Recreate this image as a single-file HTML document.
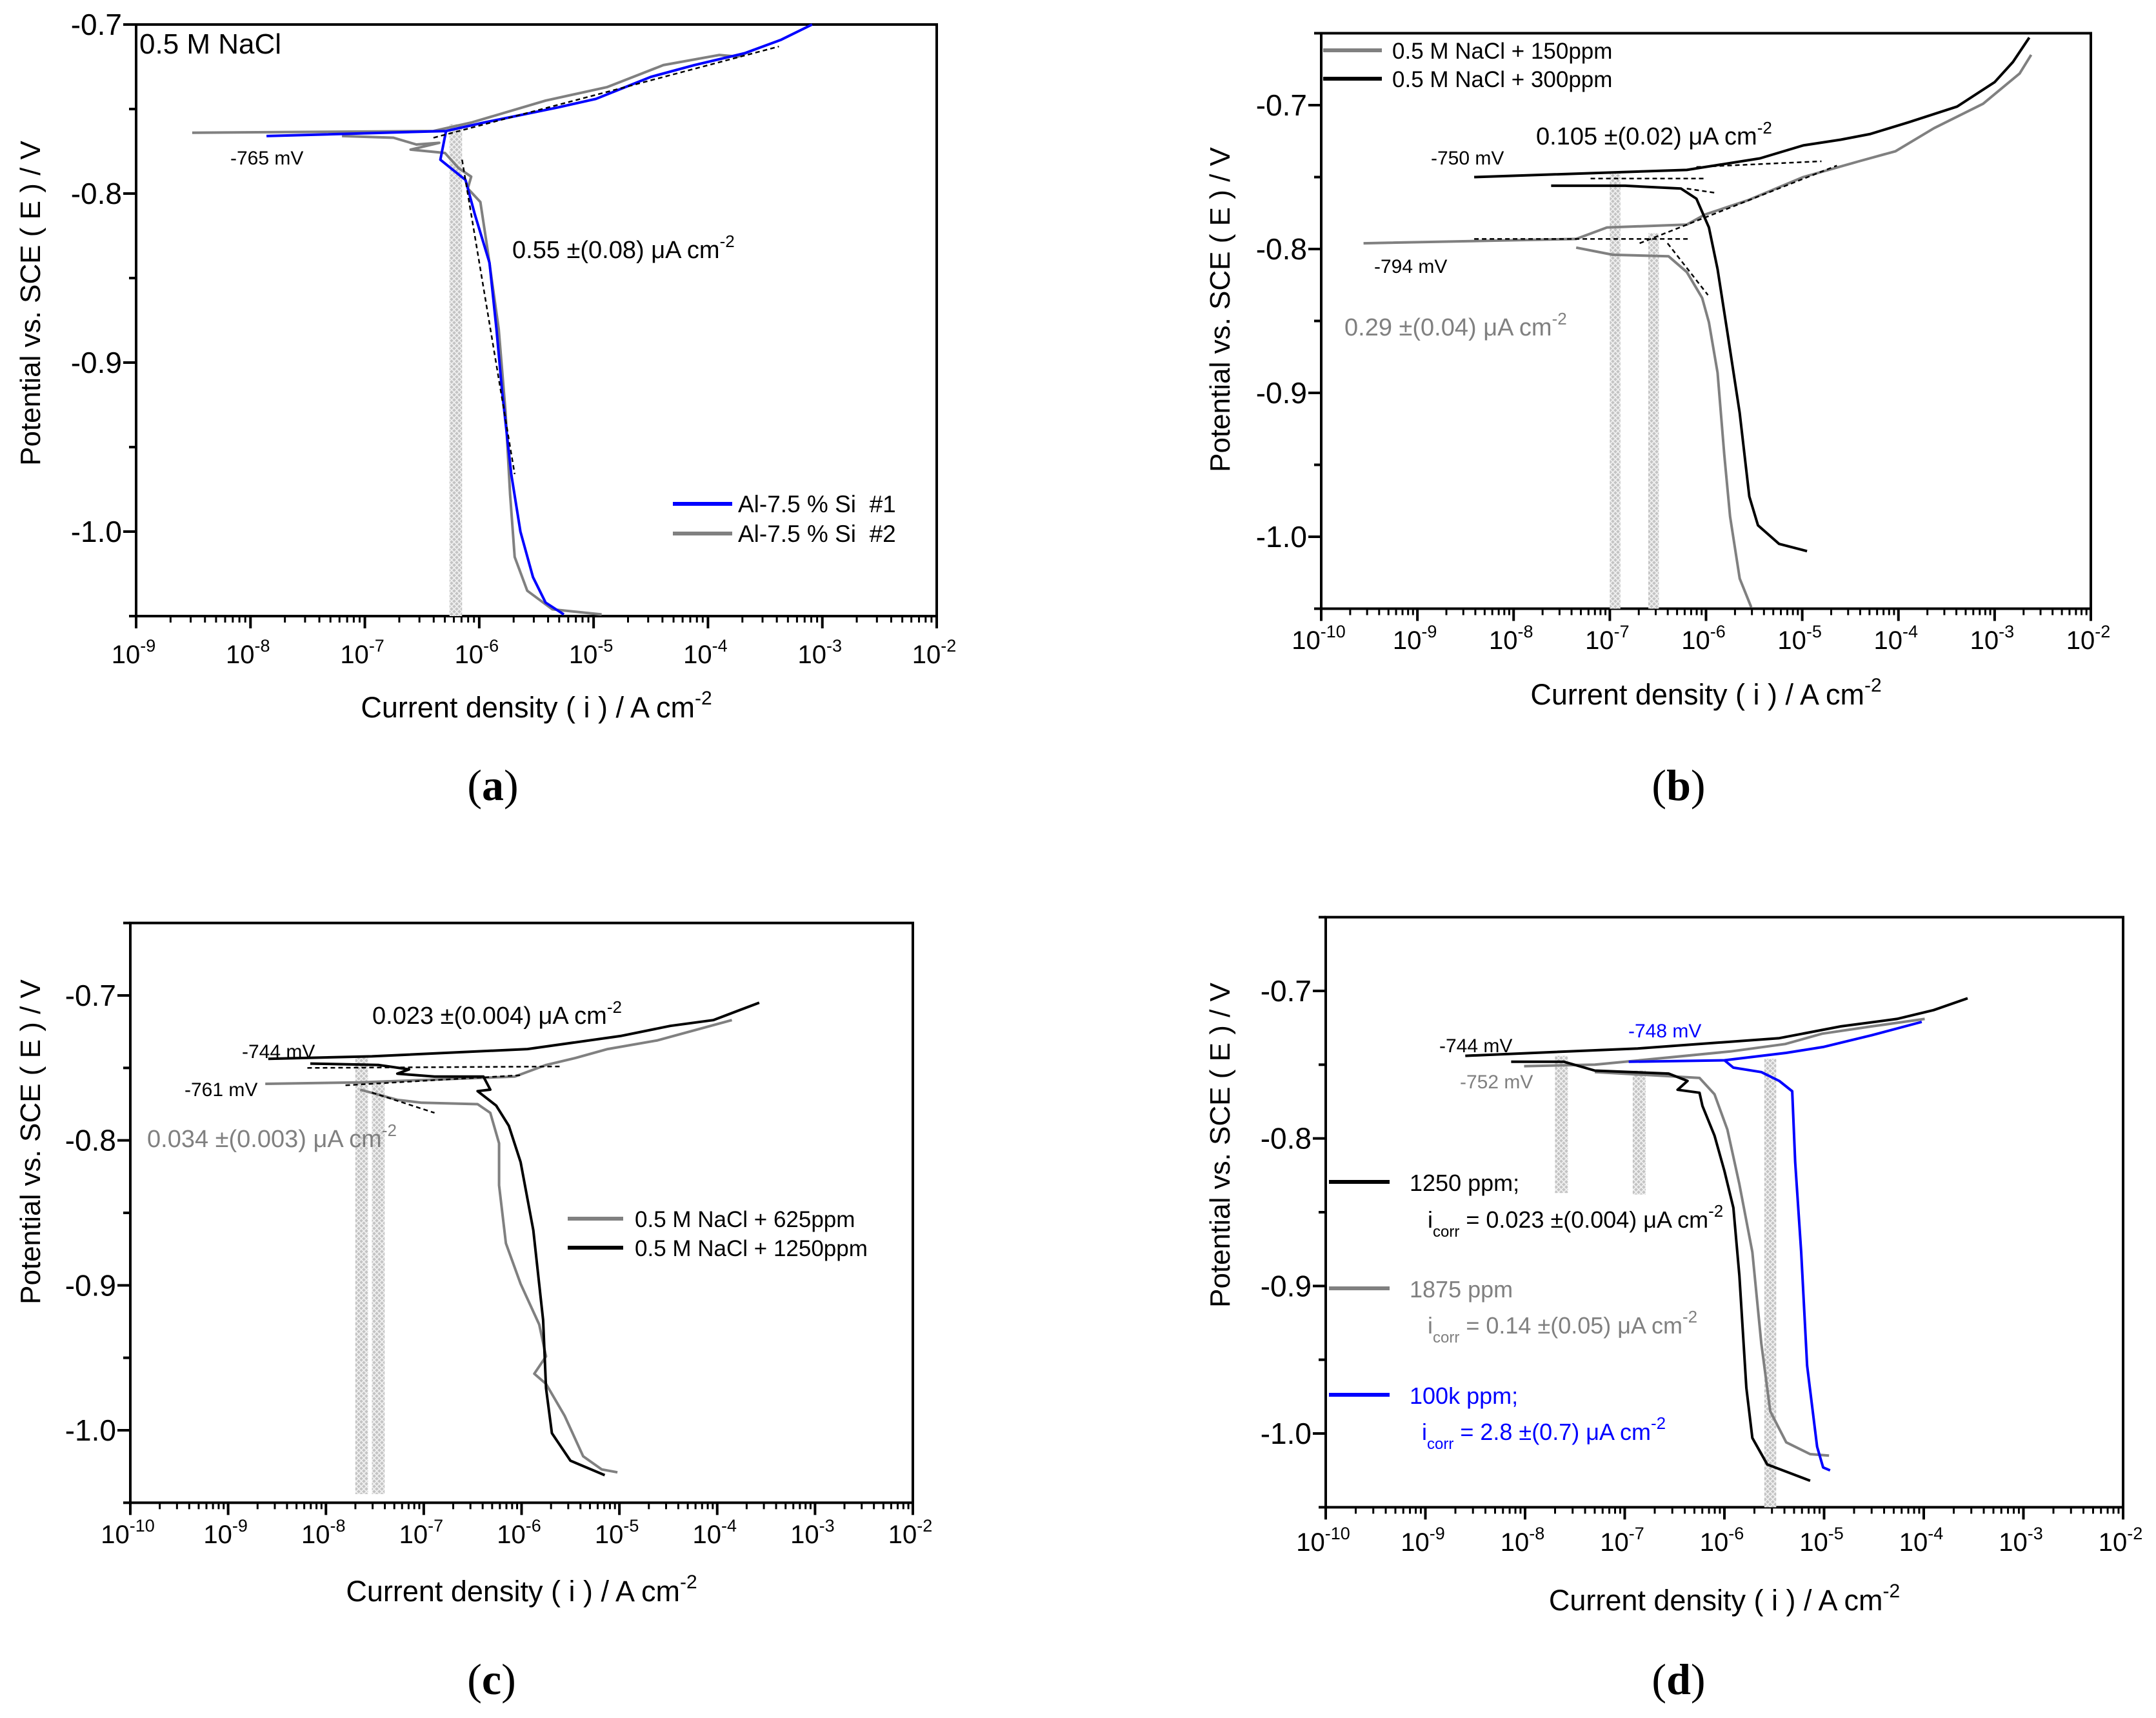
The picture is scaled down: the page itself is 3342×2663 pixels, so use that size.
<!DOCTYPE html>
<html><head><meta charset="utf-8">
<style>
html,body{margin:0;padding:0;background:#fff;}
svg{display:block;}
text{font-family:"Liberation Sans",sans-serif;}
</style></head>
<body>
<svg id="fig" xmlns="http://www.w3.org/2000/svg" width="3342" height="2663" viewBox="0 0 3342 2663">
<defs>
<pattern id="hatch" width="8" height="8" patternUnits="userSpaceOnUse">
<rect width="8" height="8" fill="#c4c4c4"/>
<path d="M0,0 L8,8 M8,0 L0,8" stroke="#f2f2f2" stroke-width="1.6"/>
</pattern>
</defs>
</svg>
<script>
// ---------- DATA (log10 current density exponent, potential V) ----------
// Panel a
const aBlueAnLog=[-7.86,-6.29,-5.96,-5.31,-4.98,-4.50,-4.12,-3.68,-3.36,-3.09];
const aBlueAnE=[-0.766,-0.763,-0.758,-0.749,-0.744,-0.731,-0.724,-0.717,-0.709,-0.700];
const aBlueCaLog=[-6.29,-6.34,-6.12,-6.04,-5.91,-5.85,-5.80,-5.72,-5.64,-5.53,-5.42,-5.26];
const aBlueCaE=[-0.763,-0.780,-0.792,-0.812,-0.841,-0.880,-0.917,-0.966,-1.000,-1.027,-1.042,-1.049];
const aGrayAnLog=[-8.51,-6.40,-6.07,-5.42,-4.88,-4.39,-3.90,-3.74,-3.60];
const aGrayAnE=[-0.764,-0.763,-0.758,-0.745,-0.737,-0.724,-0.718,-0.719,-0.715];
const aGrayCaLog=[-7.2,-6.75,-6.55,-6.35,-6.6,-6.3,-6.18,-6.07,-6.10,-5.99,-5.93,-5.83,-5.77,-5.73,-5.69,-5.58,-5.36,-4.93];
const aGrayCaE=[-0.766,-0.767,-0.771,-0.770,-0.774,-0.776,-0.785,-0.790,-0.797,-0.805,-0.832,-0.880,-0.929,-0.978,-1.015,-1.035,-1.046,-1.049];
const aBarLog=[-6.26,-6.15]; const aBarTopE=-0.759;
// Panel b
const bBlkAnLog=[-8.41,-6.20,-6.01,-5.44,-4.99,-4.60,-4.29,-3.90,-3.39,-3.00,-2.81,-2.64];
const bBlkAnE=[-0.750,-0.745,-0.743,-0.737,-0.728,-0.724,-0.720,-0.712,-0.701,-0.684,-0.670,-0.653];
const bBlkCaLog=[-7.61,-6.84,-6.26,-6.10,-5.97,-5.88,-5.78,-5.65,-5.55,-5.46,-5.24,-4.95];
const bBlkCaE=[-0.756,-0.756,-0.758,-0.765,-0.785,-0.814,-0.857,-0.914,-0.972,-0.992,-1.005,-1.010];
const bGryAnLog=[-9.56,-7.35,-7.03,-6.20,-6.01,-5.56,-4.99,-4.41,-4.03,-3.63,-3.12,-2.74,-2.62];
const bGryAnE=[-0.796,-0.793,-0.785,-0.783,-0.776,-0.766,-0.750,-0.739,-0.732,-0.716,-0.699,-0.678,-0.665];
const bGryCaLog=[-7.35,-6.97,-6.39,-6.20,-6.04,-5.97,-5.88,-5.81,-5.75,-5.65,-5.53];
const bGryCaE=[-0.799,-0.804,-0.805,-0.816,-0.834,-0.851,-0.886,-0.943,-0.986,-1.029,-1.049];
const bBar1Log=[-7.00,-6.89]; const bBar1TopE=-0.747;
const bBar2Log=[-6.60,-6.49]; const bBar2TopE=-0.789;
// Panel c
const cBlkAnLog=[-8.59,-7.53,-5.94,-4.99,-4.48,-4.04,-3.57];
const cBlkAnE=[-0.7437,-0.742,-0.737,-0.728,-0.721,-0.717,-0.705];
const cBlkCaLog=[-8.16,-7.46,-7.15,-7.27,-6.89,-6.39,-6.32,-6.45,-6.26,-6.13,-6.01,-5.88,-5.78,-5.75,-5.69,-5.50,-5.15];
const cBlkCaE=[-0.747,-0.748,-0.751,-0.754,-0.756,-0.756,-0.765,-0.766,-0.776,-0.790,-0.815,-0.862,-0.924,-0.971,-1.002,-1.021,-1.031];
const cGryAnLog=[-8.62,-7.65,-6.07,-5.75,-5.44,-5.12,-4.61,-3.85];
const cGryAnE=[-0.761,-0.760,-0.756,-0.748,-0.743,-0.737,-0.731,-0.717];
const cGryCaLog=[-7.65,-7.27,-7.02,-6.45,-6.32,-6.23,-6.23,-6.16,-6.01,-5.82,-5.75,-5.87,-5.75,-5.56,-5.37,-5.18,-5.02];
const cGryCaE=[-0.765,-0.772,-0.774,-0.775,-0.781,-0.802,-0.831,-0.871,-0.899,-0.927,-0.949,-0.961,-0.968,-0.990,-1.018,-1.027,-1.029];
const cBar1Log=[-7.70,-7.57]; const cBar1TopE=-0.743;
const cBar2Log=[-7.53,-7.40]; const cBar2TopE=-0.759;
// Panel d
const dBlkAnLog=[-8.60,-6.87,-5.45,-4.83,-4.27,-3.90,-3.56];
const dBlkAnE=[-0.744,-0.739,-0.732,-0.724,-0.719,-0.713,-0.705];
const dBlkCaLog=[-8.14,-7.61,-7.30,-6.56,-6.37,-6.47,-6.25,-6.22,-6.10,-6.00,-5.91,-5.85,-5.78,-5.72,-5.57,-5.14];
const dBlkCaE=[-0.748,-0.748,-0.754,-0.756,-0.761,-0.767,-0.769,-0.778,-0.798,-0.822,-0.847,-0.893,-0.969,-1.003,-1.021,-1.032];
const dGryAnLog=[-8.01,-7.30,-5.94,-5.39,-5.02,-4.52,-3.99];
const dGryAnE=[-0.751,-0.750,-0.741,-0.736,-0.729,-0.724,-0.719];
const dGryCaLog=[-7.30,-6.50,-6.25,-6.10,-5.97,-5.85,-5.72,-5.63,-5.54,-5.38,-5.14,-4.95];
const dGryCaE=[-0.755,-0.758,-0.759,-0.770,-0.794,-0.831,-0.877,-0.939,-0.985,-1.006,-1.014,-1.015];
const dBluAnLog=[-6.96,-6.00,-5.38,-5.01,-4.52,-4.02];
const dBluAnE=[-0.748,-0.747,-0.742,-0.738,-0.730,-0.721];
const dBluCaLog=[-6.00,-5.91,-5.63,-5.45,-5.32,-5.29,-5.23,-5.17,-5.07,-5.01,-4.94];
const dBluCaE=[-0.747,-0.752,-0.755,-0.761,-0.768,-0.816,-0.877,-0.954,-1.009,-1.023,-1.025];
const dBar1Log=[-7.70,-7.57]; const dBar1E=[-0.744,-0.837];
const dBar2Log=[-6.92,-6.79]; const dBar2E=[-0.754,-0.838];
const dBar3Log=[-5.60,-5.48]; const dBar3E=[-0.746,-1.05];
const yTickVals=[-0.7,-0.8,-0.9,-1.0];

// ---------- RENDER ----------
const svg=document.getElementById('fig');
const NS='http://www.w3.org/2000/svg';
function mk(tag,attrs,parent){const e=document.createElementNS(NS,tag);for(const k in attrs)e.setAttribute(k,attrs[k]);(parent||svg).appendChild(e);return e;}

function makePanel(p){
  const g=mk('g',{});
  
  
  const sx=v=>p.x0+(v-p.lmin)/(p.lmax-p.lmin)*(p.x1-p.x0);
  const sy=v=>p.yA+(v-p.eA)/(p.eB-p.eA)*(p.yB-p.yA);
  p.sx=sx;p.sy=sy;p.g=g;
  const yTop=sy(p.emax),yBot=sy(p.emin);
  const box=mk('rect',{x:p.x0,y:yTop,width:p.x1-p.x0,height:yBot-yTop,fill:'none',stroke:'#000','stroke-width':4},g);
  
  
  for(let e=-1.05;e<=p.emax+1e-6;e+=0.05){
    const maj=yTickVals.some(v=>Math.abs(v-e)<1e-6);
    const y=sy(e);
    mk('line',{x1:p.x0,x2:p.x0-(maj?20:11),y1:y,y2:y,stroke:'#000','stroke-width':4},g);
    if(maj){
      const t=mk('text',{x:p.x0-22,y:y+16,'font-size':46,'text-anchor':'end'},g);
      t.textContent=e.toFixed(1);
      
      
    }
  }
  for(let d=p.lmin;d<=p.lmax;d++){
    const x=sx(d);
    mk('line',{x1:x,x2:x,y1:yBot,y2:yBot+19,stroke:'#000','stroke-width':4},g);
    const t=mk('text',{x:x-4,y:p.xlabY,'font-size':40,'text-anchor':'middle'},g);
    
    
    t.innerHTML='10<tspan dy="-18" font-size="27">'+d+'</tspan>';
    if(d<p.lmax){for(let m=2;m<=9;m++){const xm=sx(d+Math.log10(m));mk('line',{x1:xm,x2:xm,y1:yBot,y2:yBot+10,stroke:'#000','stroke-width':3},g);}}
  }
  const xt=mk('text',{x:(p.x0+p.x1)/2,y:p.xtitleY,'font-size':45,'text-anchor':'middle'},g);
  
  
  xt.innerHTML='Current density ( i ) / A cm<tspan dy="-20" font-size="30">-2</tspan>';
  const yt=mk('text',{x:0,y:0,'font-size':44,'text-anchor':'middle',transform:'translate('+p.ytX+','+p.ytY+') rotate(-90)'},g);
  
  
  yt.textContent='Potential vs. SCE ( E ) / V';
  const pl=mk('text',{x:p.plX,y:p.plY,'font-size':68,'text-anchor':'middle',style:'font-family:"Liberation Serif",serif'},g);
  
  
  pl.innerHTML='(<tspan font-weight="bold">'+p.id+'</tspan>)';
  return p;
}
function curve(p,xs,es,color,name,w){
  let d='';xs.forEach((v,i)=>{d+=(i?'L':'M')+p.sx(v).toFixed(1)+','+p.sy(es[i]).toFixed(1);});
  const e=mk('path',{d:d,fill:'none',stroke:color,'stroke-width':w||4,'stroke-linejoin':'round'},p.g);
  
  
}
function dash(p,l1,e1,l2,e2){
  const e=mk('line',{x1:p.sx(l1),y1:p.sy(e1),x2:p.sx(l2),y2:p.sy(e2),stroke:'#000','stroke-width':2.5,'stroke-dasharray':'7,5'},p.g);
  
  
}
function bar(p,ls,eTop,eBot){
  const x=p.sx(ls[0]),w=p.sx(ls[1])-x,y=p.sy(eTop);
  const e=mk('rect',{x:x,y:y,width:w,height:p.sy(eBot)-y,fill:'url(#hatch)'},p.g);
  
  
}
function label(p,x,y,size,color,html,name){
  const t=mk('text',{x:x,y:y,'font-size':size,fill:color},p.g);
  
  
  t.innerHTML=html;
}
function legLine(p,x1,x2,y,color){
  const e=mk('line',{x1:x1,x2:x2,y1:y,y2:y,stroke:color,'stroke-width':6},p.g);
  
  
}
const SUP=(s)=>'<tspan dy="-17" font-size="26">'+s+'</tspan>';

const A=makePanel({id:'a',x0:211,x1:1452,lmin:-9,lmax:-2,yA:38,eA:-0.7,yB:824,eB:-1.0,emin:-1.05,emax:-0.7,xlabY:1028,xtitleY:1112,ytX:62,ytY:470,plX:764,plY:1240});
bar(A,aBarLog,aBarTopE,-1.05);
curve(A,aGrayAnLog,aGrayAnE,'#808080','series-2-anodic');
curve(A,aGrayCaLog,aGrayCaE,'#808080','series-2-cathodic');
curve(A,aBlueAnLog,aBlueAnE,'#0000ff','series-1-anodic');
curve(A,aBlueCaLog,aBlueCaE,'#0000ff','series-1-cathodic');
dash(A,-6.40,-0.767,-3.38,-0.713);dash(A,-6.15,-0.780,-5.69,-0.966);
label(A,216,83,44,'#000','0.5 M NaCl','condition-label');
label(A,357,255,30,'#000','-765 mV','ecorr-label');
label(A,794,400,38,'#000','0.55 ±(0.08) μA cm'+SUP('-2'),'icorr-label');
legLine(A,1043,1135,781,'#0000ff');legLine(A,1043,1135,827,'#808080');
label(A,1144,794,37,'#000','Al-7.5 % Si&#160; #1','legend-entry');
label(A,1144,840,37,'#000','Al-7.5 % Si&#160; #2','legend-entry');

const B=makePanel({id:'b',x0:2048,x1:3241,lmin:-10,lmax:-2,yA:163,eA:-0.7,yB:832,eB:-1.0,emin:-1.05,emax:-0.65,xlabY:1006,xtitleY:1092,ytX:1906,ytY:480,plX:2602,plY:1240});
bar(B,bBar1Log,bBar1TopE,-1.05);bar(B,bBar2Log,bBar2TopE,-1.05);
curve(B,bGryAnLog,bGryAnE,'#808080','series-150ppm-anodic');
curve(B,bGryCaLog,bGryCaE,'#808080','series-150ppm-cathodic');
curve(B,bBlkAnLog,bBlkAnE,'#000','series-300ppm-anodic');
curve(B,bBlkCaLog,bBlkCaE,'#000','series-300ppm-cathodic');
dash(B,-7.2,-0.751,-6.0,-0.751);dash(B,-6.2,-0.758,-5.9,-0.761);dash(B,-6.1,-0.743,-4.8,-0.739);
dash(B,-8.41,-0.793,-6.17,-0.793);dash(B,-6.69,-0.796,-4.64,-0.742);dash(B,-6.4,-0.796,-5.98,-0.832);
label(B,2381,224,38,'#000','0.105 ±(0.02) μA cm'+SUP('-2'),'icorr-label');
label(B,2218,255,30,'#000','-750 mV','ecorr-label');
label(B,2130,423,30,'#000','-794 mV','ecorr-label');
label(B,2084,520,38,'#808080','0.29 ±(0.04) μA cm'+SUP('-2'),'icorr-label');
legLine(B,2051,2142,78,'#808080');legLine(B,2051,2142,122,'#000');
label(B,2158,91,35,'#000','0.5 M NaCl + 150ppm','legend-entry');
label(B,2158,135,35,'#000','0.5 M NaCl + 300ppm','legend-entry');

const C=makePanel({id:'c',x0:202,x1:1415,lmin:-10,lmax:-2,yA:1543,eA:-0.7,yB:2217,eB:-1.0,emin:-1.05,emax:-0.65,xlabY:2392,xtitleY:2482,ytX:62,ytY:1770,plX:762,plY:2626});
bar(C,cBar1Log,cBar1TopE,-1.044);bar(C,cBar2Log,cBar2TopE,-1.044);
curve(C,cGryAnLog,cGryAnE,'#808080','series-625ppm-anodic');
curve(C,cGryCaLog,cGryCaE,'#808080','series-625ppm-cathodic');
curve(C,cBlkAnLog,cBlkAnE,'#000','series-1250ppm-anodic');
curve(C,cBlkCaLog,cBlkCaE,'#000','series-1250ppm-cathodic');
dash(C,-8.19,-0.750,-5.59,-0.749);dash(C,-7.8,-0.762,-6.0,-0.755);dash(C,-7.53,-0.767,-6.89,-0.781);
label(C,577,1587,38,'#000','0.023 ±(0.004) μA cm'+SUP('-2'),'icorr-label');
label(C,375,1640,30,'#000','-744 mV','ecorr-label');
label(C,286,1699,30,'#000','-761 mV','ecorr-label');
label(C,228,1778,38,'#808080','0.034 ±(0.003) μA cm'+SUP('-2'),'icorr-label');
legLine(C,880,966,1889,'#808080');legLine(C,880,966,1934,'#000');
label(C,984,1902,35,'#000','0.5 M NaCl + 625ppm','legend-entry');
label(C,984,1947,35,'#000','0.5 M NaCl + 1250ppm','legend-entry');

const D=makePanel({id:'d',x0:2055,x1:3291,lmin:-10,lmax:-2,yA:1536,eA:-0.7,yB:2222,eB:-1.0,emin:-1.05,emax:-0.65,xlabY:2404,xtitleY:2496,ytX:1906,ytY:1775,plX:2602,plY:2626});
bar(D,dBar1Log,dBar1E[0],dBar1E[1]);bar(D,dBar2Log,dBar2E[0],dBar2E[1]);bar(D,dBar3Log,dBar3E[0],dBar3E[1]);
curve(D,dGryAnLog,dGryAnE,'#808080','series-1875ppm-anodic');
curve(D,dGryCaLog,dGryCaE,'#808080','series-1875ppm-cathodic');
curve(D,dBlkAnLog,dBlkAnE,'#000','series-1250ppm-anodic');
curve(D,dBlkCaLog,dBlkCaE,'#000','series-1250ppm-cathodic');
curve(D,dBluAnLog,dBluAnE,'#0000ff','series-100k-anodic');
curve(D,dBluCaLog,dBluCaE,'#0000ff','series-100k-cathodic');
label(D,2231,1631,30,'#000','-744 mV','ecorr-label');
label(D,2524,1608,30,'#0000ff','-748 mV','ecorr-label');
label(D,2263,1687,30,'#808080','-752 mV','ecorr-label');
legLine(D,2060,2154,1832,'#000');legLine(D,2060,2154,1997,'#808080');legLine(D,2060,2154,2162,'#0000ff');
const SUB=(s)=>'<tspan dy="14" font-size="24">'+s+'</tspan><tspan dy="-14"> </tspan>';
label(D,2185,1846,36,'#000','1250 ppm;','legend-entry');
label(D,2213,1903,36,'#000','i'+SUB('corr')+'= 0.023 ±(0.004) μA cm'+SUP('-2'),'legend-icorr');
label(D,2185,2011,36,'#808080','1875 ppm','legend-entry');
label(D,2213,2067,36,'#808080','i'+SUB('corr')+'= 0.14 ±(0.05) μA cm'+SUP('-2'),'legend-icorr');
label(D,2185,2176,36,'#0000ff','100k ppm;','legend-entry');
label(D,2204,2232,36,'#0000ff','i'+SUB('corr')+'= 2.8 ±(0.7) μA cm'+SUP('-2'),'legend-icorr');
</script>
</body></html>
